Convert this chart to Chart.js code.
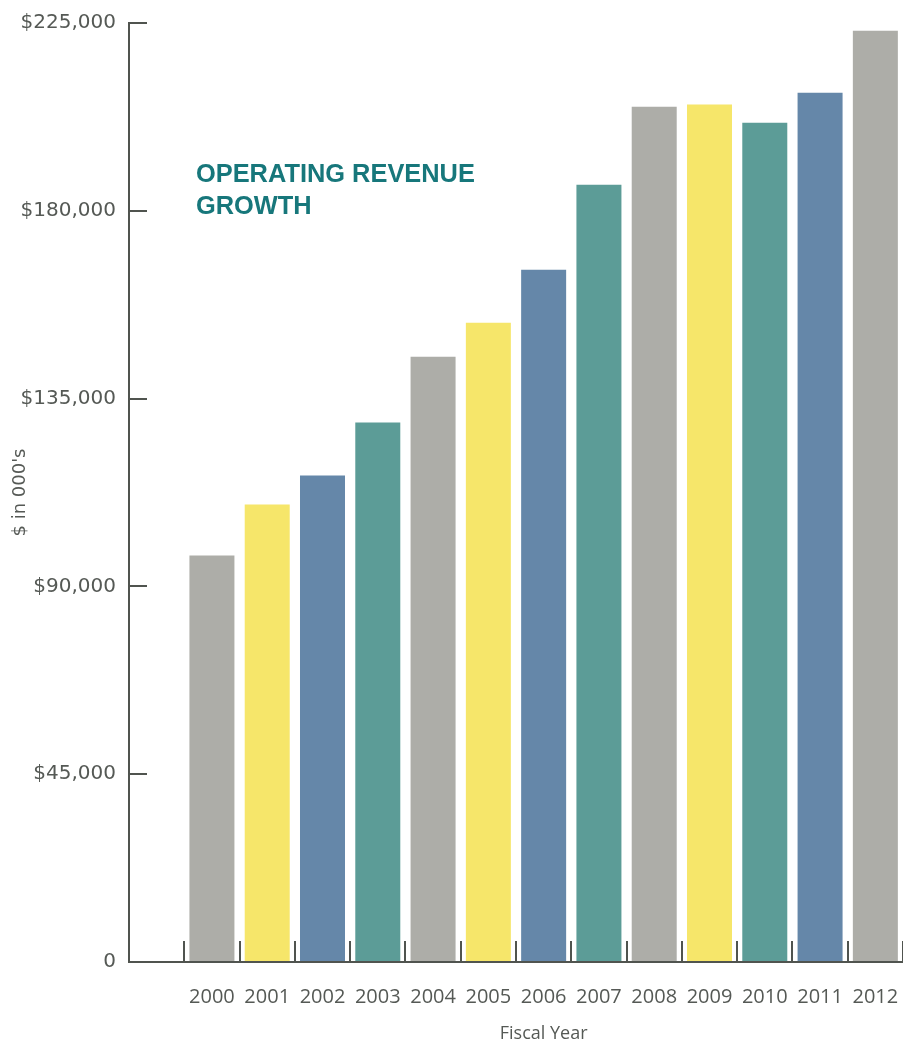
<!DOCTYPE html>
<html>
<head>
<meta charset="utf-8">
<script src="https://cdn.jsdelivr.net/npm/chart.js@4"></script>
<style>
  html, body { margin: 0; padding: 0; background: #fff; }
</style>
</head>
<body>
<canvas id="canvas" width="903" height="1043"></canvas>
<script>
// data ($ in 000's)
var years = ['2000', '2001', '2002', '2003', '2004', '2005', '2006', '2007', '2008', '2009', '2010', '2011', '2012'];
var revenue = [97400, 109600, 116550, 129250, 145050, 153200, 165900, 186250, 204950, 205450, 201100, 208300, 223150];
var barColors = ['#adada8', '#f6e66a', '#6587a9', '#5c9c97', '#adada8', '#f6e66a', '#6587a9', '#5c9c97', '#adada8', '#f6e66a', '#5c9c97', '#6587a9', '#adada8'];
var yTicks = [0, 45000, 90000, 135000, 180000, 225000];
var titleLines = ['OPERATING REVENUE', 'GROWTH'];
var yTitle = "$ in 000's";
var xTitle = 'Fiscal Year';

var axisColor = '#50544f';
var textColor = '#555955';

// an empty first slot keeps the gap between the y axis and the 2000 bar
var labels = [''].concat(years);
var values = [null].concat(revenue);
var colors = ['rgba(0,0,0,0)'].concat(barColors);

// title inside the plot + x axis title centred on the year bars
var textPlugin = {
  id: 'texts',
  afterDraw: function(chart) {
    var ctx = chart.ctx;
    ctx.save();
    ctx.fillStyle = '#17777b';
    ctx.font = 'bold 25.4px "Liberation Sans", Arial, sans-serif';
    ctx.textAlign = 'left';
    ctx.textBaseline = 'alphabetic';
    ctx.fillText(titleLines[0], 196, 182);
    ctx.fillText(titleLines[1], 196, 214);

    var x = chart.scales.x;
    var cx = (x.getPixelForValue(1) + x.getPixelForValue(labels.length - 1)) / 2;
    ctx.fillStyle = textColor;
    ctx.font = '18px "Open Sans", sans-serif';
    ctx.textAlign = 'center';
    ctx.fillText(xTitle, cx, 1039);
    ctx.restore();
  }
};

var ctx = document.getElementById('canvas').getContext('2d');
var myChart = new Chart(ctx, {
  type: 'bar',
  data: {
    labels: labels,
    datasets: [{
      data: values,
      backgroundColor: colors,
      borderWidth: 0,
      categoryPercentage: 1,
      barPercentage: 0.814
    }]
  },
  options: {
    responsive: false,
    animation: false,
    devicePixelRatio: 1,
    layout: { padding: { top: 23, left: 0, right: 0, bottom: 0 } },
    plugins: {
      legend: { display: false },
      tooltip: { enabled: false }
    },
    scales: {
      x: {
        type: 'category',
        offset: true,
        grid: {
          offset: true,
          drawOnChartArea: false,
          tickLength: -21, // marks point up into the plot
          lineWidth: 2,
          color: function(c) { return c.index === labels.length ? 'rgba(0,0,0,0)' : axisColor; }
        },
        border: { display: true, color: axisColor, width: 2 },
        ticks: {
          autoSkip: false,
          maxRotation: 0,
          padding: 44,
          color: textColor,
          font: { family: '"Open Sans", sans-serif', size: 20 }
        },
        afterFit: function(s) {
          s.height = 81;
          s.paddingLeft = 0;
          s.paddingRight = 0;
        }
      },
      y: {
        min: 0,
        max: 225000,
        afterBuildTicks: function(s) {
          s.ticks = yTicks.map(function(v) { return { value: v }; });
        },
        grid: {
          drawOnChartArea: false,
          tickLength: -18,
          lineWidth: 2,
          color: axisColor
        },
        border: { display: true, color: axisColor, width: 2 },
        ticks: {
          padding: 31,
          color: textColor,
          font: { family: '"DejaVu Sans", sans-serif', size: 20 },
          callback: function(v) {
            return v === 0 ? '0' : '$' + v.toLocaleString('en-US');
          }
        },
        title: {
          display: true,
          text: yTitle,
          color: textColor,
          font: { family: '"DejaVu Sans", sans-serif', size: 18 },
          padding: { top: 10, bottom: 0 }
        },
        afterFit: function(s) {
          s.width = 129;
          s.paddingTop = 0;
          s.paddingBottom = 0;
        }
      }
    }
  },
  plugins: [textPlugin]
});
</script>
</body>
</html>
